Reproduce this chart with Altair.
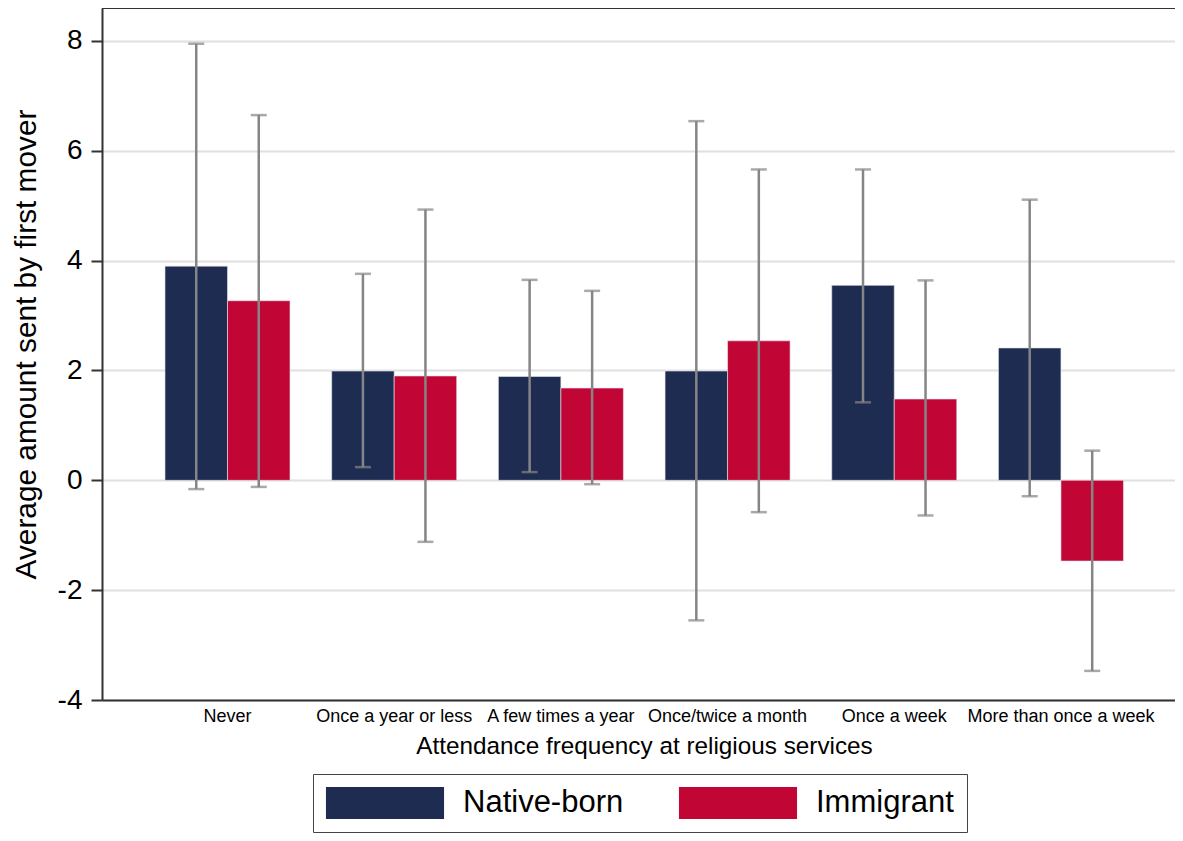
import altair as alt
import pandas as pd

categories = ["Never", "Once a year or less", "A few times a year",
              "Once/twice a month", "Once a week", "More than once a week"]
groups = ["Native-born", "Immigrant"]

native_mean = [3.90, 1.99, 1.89, 1.99, 3.55, 2.41]
native_lo = [-0.16, 0.24, 0.15, -2.55, 1.42, -0.29]
native_hi = [7.95, 3.76, 3.65, 6.54, 5.66, 5.11]

immig_mean = [3.27, 1.90, 1.68, 2.54, 1.48, -1.47]
immig_lo = [-0.12, -1.12, -0.07, -0.58, -0.64, -3.47]
immig_hi = [6.65, 4.93, 3.45, 5.66, 3.64, 0.54]

y_ticks = [-4, -2, 0, 2, 4, 6, 8]

rows = []
for i, c in enumerate(categories):
    rows.append({"cat": c, "group": groups[0], "mean": native_mean[i],
                 "lo": native_lo[i], "hi": native_hi[i]})
    rows.append({"cat": c, "group": groups[1], "mean": immig_mean[i],
                 "lo": immig_lo[i], "hi": immig_hi[i]})
df = pd.DataFrame(rows)

W = 1073
H = 692
FONT = "Liberation Sans"

x_enc = alt.X("cat:N", sort=categories,
              scale=alt.Scale(paddingInner=0.25, paddingOuter=0.3435, align=0.55),
              axis=alt.Axis(title="Attendance frequency at religious services",
                            labelAngle=0, ticks=False, tickSize=0,
                            labelFontSize=18, labelPadding=7, labelColor="black",
                            labelFont=FONT, labelLimit=0,
                            titleFont=FONT, titleFontSize=24.3,
                            titleFontWeight="normal", titleColor="black",
                            titleBaseline="alphabetic", titleY=53, titleX=542,
                            titleAlign="center",
                            domainColor="#333333", domainWidth=2, grid=False))
xo_enc = alt.XOffset("group:N", sort=groups,
                     scale=alt.Scale(paddingInner=0, paddingOuter=0))
y_scale = alt.Scale(domain=[-4, 8.6], nice=False, zero=False)

legend_shape = "M-3.69,-1L3.69,-1L3.69,1L-3.69,1Z"

bars = alt.Chart(df).mark_bar(stroke="#e8e8f0", strokeWidth=0.6).encode(
    x=x_enc,
    xOffset=xo_enc,
    y=alt.Y("mean:Q", scale=y_scale,
            axis=alt.Axis(title="Average amount sent by first mover",
                          values=y_ticks, labelExpr="datum.value + ''",
                          labelFontSize=28, labelFont=FONT, labelColor="black",
                          labelPadding=9, tickSize=11, tickWidth=2,
                          tickColor="#333333", domainColor="#333333",
                          domainWidth=2, gridColor="#e0e0e0", gridWidth=2,
                          titleFont=FONT, titleFontSize=29.8,
                          titleFontWeight="normal", titleColor="black",
                          titleAngle=270, titleBaseline="alphabetic",
                          titleAlign="center", titleX=-67, titleY=336)),
    y2=alt.datum(0),
    color=alt.Color("group:N", sort=groups,
                    scale=alt.Scale(domain=groups, range=["#1f2c52", "#c10534"]),
                    legend=alt.Legend(title=None, orient="none",
                                      legendX=211, legendY=766,
                                      direction="horizontal",
                                      symbolType=legend_shape, symbolSize=1024,
                                      symbolStrokeWidth=0, symbolOffset=43,
                                      labelOffset=62, labelFontSize=31,
                                      labelFont=FONT, labelColor="black",
                                      labelLimit=0,
                                      columnPadding=54, padding=13,
                                      strokeColor="#444444")),
)

err = alt.Chart(df).mark_rule(color="#858585", strokeWidth=2.5).encode(
    x=alt.X("cat:N", sort=categories),
    xOffset=xo_enc,
    y=alt.Y("lo:Q", scale=y_scale),
    y2="hi:Q",
)
cap_lo = alt.Chart(df).mark_tick(color="#858585", thickness=2.5, size=16,
                                 orient="horizontal").encode(
    x=alt.X("cat:N", sort=categories),
    xOffset=xo_enc,
    y=alt.Y("lo:Q", scale=y_scale),
)
cap_hi = alt.Chart(df).mark_tick(color="#858585", thickness=2.5, size=16,
                                 orient="horizontal").encode(
    x=alt.X("cat:N", sort=categories),
    xOffset=xo_enc,
    y=alt.Y("hi:Q", scale=y_scale),
)
top_border = alt.Chart(df).mark_rule(color="#333333", strokeWidth=2).encode(
    x=alt.value(0), x2=alt.value(W), y=alt.value(0)
)

chart = alt.layer(bars, err, cap_lo, cap_hi, top_border).properties(
    width=W, height=H,
    autosize=alt.AutoSizeParams(type="none"),
    padding={"left": 94, "top": 0, "right": 0, "bottom": 133},
    background="white",
).configure_view(stroke=None)

chart.save("out.html", embed_options={"renderer": "svg", "actions": False})
